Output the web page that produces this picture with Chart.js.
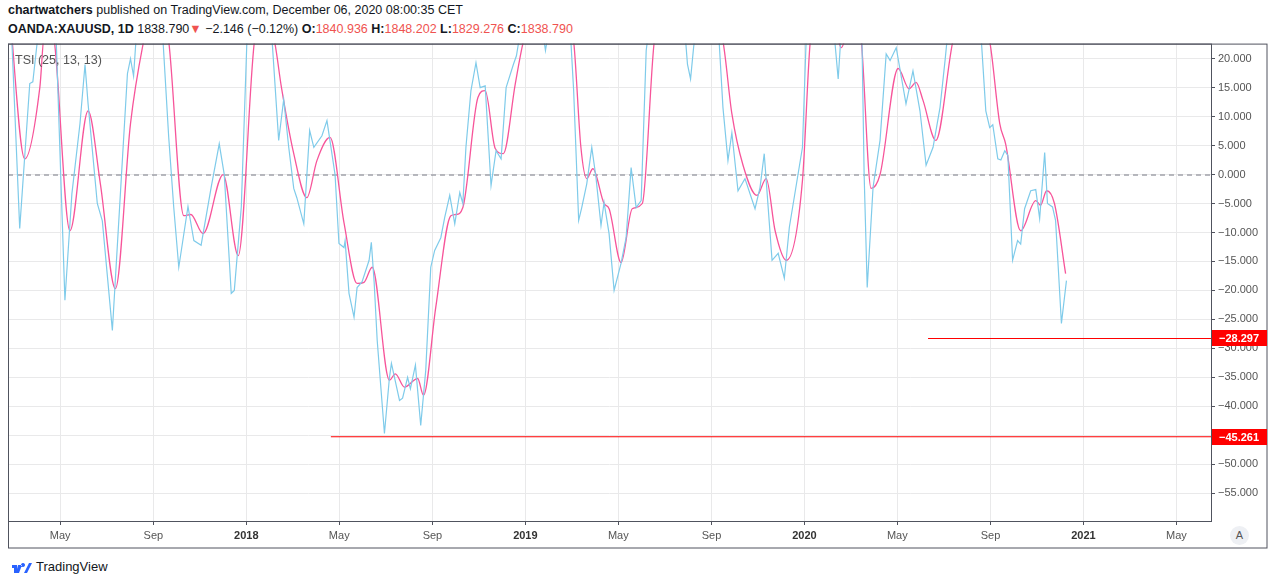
<!DOCTYPE html>
<html><head><meta charset="utf-8">
<script src="https://cdn.jsdelivr.net/npm/chart.js@4"></script>
<style>
body{margin:0;background:#fff;width:1274px;height:586px;overflow:hidden;font-family:"Liberation Sans",Arial,sans-serif;position:relative}
#h1{position:absolute;left:8px;top:3px;font-size:12.5px;color:#131722;white-space:nowrap}
#h2{position:absolute;left:8px;top:22px;font-size:12.5px;color:#131722;white-space:nowrap}
.r{color:#ef5350}
#wrap{position:absolute;left:8px;top:34px;width:1260px;height:515px}
#tsi{position:absolute;left:15px;top:53px;font-size:12.5px;color:#555}
#foot{position:absolute;left:12px;top:559px;font-size:13px;color:#131722;display:flex;align-items:center;gap:4px}
#auto{position:absolute;left:1230px;top:526px;width:19px;height:19px;border-radius:50%;background:#eef0f4;color:#555;font-size:11px;text-align:center;line-height:19px}
</style></head><body>
<div id="h1"><b>chartwatchers</b> published on TradingView.com, December 06, 2020 08:00:35 CET</div>
<div id="h2"><b>OANDA:XAUUSD, 1D</b> 1838.790<span class="r">▼</span> −2.146 (−0.12%) <b>O:</b><span class="r">1840.936</span> <b>H:</b><span class="r">1848.202</span> <b>L:</b><span class="r">1829.276</span> <b>C:</b><span class="r">1838.790</span></div>
<div id="wrap"><canvas id="c"></canvas></div>
<div id="tsi">TSI (25, 13, 13)</div>
<div id="auto">A</div>
<div id="foot"><svg width="20" height="12" viewBox="0 0 20 12"><path d="M0 4h5v8H2V7H0z M6 4h4l-3 8H4z M11 2a2 2 0 1 0 .01 0z M12 12l5-10h3l-5 10z" fill="#2962ff"/></svg><span>TradingView</span></div>
<script>
const tsiX=[2017.159,2017.188,2017.224,2017.235,2017.267,2017.314,2017.350,2017.375,2017.404,2017.422,2017.433,2017.466,2017.484,2017.520,2017.574,2017.585,2017.596,2017.614,2017.693,2017.722,2017.740,2017.758,2017.791,2017.812,2017.838,2017.874,2017.903,2017.921,2017.946,2017.957,2017.982,2018.007,2018.083,2018.116,2018.134,2018.152,2018.170,2018.181,2018.206,2018.227,2018.242,2018.271,2018.289,2018.318,2018.332,2018.350,2018.354,2018.368,2018.386,2018.397,2018.415,2018.440,2018.448,2018.458,2018.469,2018.495,2018.513,2018.520,2018.549,2018.560,2018.578,2018.588,2018.606,2018.625,2018.643,2018.661,2018.675,2018.697,2018.711,2018.729,2018.747,2018.765,2018.776,2018.787,2018.805,2018.823,2018.838,2018.856,2018.877,2018.895,2018.913,2018.931,2018.957,2018.968,2019.000,2019.047,2019.072,2019.101,2019.155,2019.173,2019.191,2019.202,2019.220,2019.238,2019.253,2019.271,2019.282,2019.300,2019.318,2019.343,2019.361,2019.379,2019.397,2019.415,2019.433,2019.455,2019.563,2019.581,2019.592,2019.603,2019.625,2019.686,2019.708,2019.726,2019.740,2019.762,2019.787,2019.823,2019.841,2019.856,2019.884,2019.906,2019.928,2019.946,2019.993,2020.011,2020.096,2020.121,2020.139,2020.204,2020.214,2020.225,2020.246,2020.271,2020.293,2020.307,2020.329,2020.364,2020.389,2020.414,2020.436,2020.461,2020.486,2020.504,2020.525,2020.625,2020.650,2020.664,2020.675,2020.693,2020.704,2020.718,2020.729,2020.746,2020.764,2020.775,2020.789,2020.811,2020.829,2020.843,2020.861,2020.871,2020.889,2020.900,2020.921,2020.939];
const tsiY=[24,-9.3,15.7,16,30,30,-21.7,-3.3,8.8,19,12.2,-5,-8,-26.9,17.4,20,17,30,30,6.4,-5.7,-16,-5.5,-11.4,-12.2,-2.2,5.3,0,-20.5,-20,-5.6,30,30,5.9,13,4.7,-2.4,-4,-8.5,7.6,4.7,6.7,9.3,0,-11.9,-12.6,-11.4,-20.5,-24.6,-19.5,-18.5,-14.8,-11.7,-18.5,-28.6,-44.7,-35,-32.6,-39,-38.6,-35,-37,-32.9,-43.3,-33.8,-16,-13.1,-10.9,-7.4,-3.6,-8.5,-3.1,-5,4.7,14.5,19.3,15,15.3,-1.9,4.1,2.7,15,19,20.5,30,30,21.4,30,30,14.5,-7.9,-5.7,-1.6,4.7,-0.5,-8.8,-4.8,-10.2,-20,-15.3,-10.9,1.2,-5.7,-4.5,21.4,30,30,19,16.5,22,30,30,11.6,2.4,7.2,-2.8,-0.7,-5.9,-2.2,3.6,-14.8,-13.6,-17.9,-9.1,4.7,30,30,16.5,30,30,0,-19.5,-2.2,5.9,20.8,19.7,21.9,12.2,17.9,11,1.6,4.7,11.6,19.7,30,30,11,8.1,8.6,2.7,2.5,4.1,3.3,-14.8,-11.4,-12,-5.9,-2.8,-2.6,-7.6,3.8,-5,-5.6,-7.9,-25.7,-18.3];
const sigX=[2017.152,2017.206,2017.260,2017.278,2017.303,2017.368,2017.433,2017.477,2017.531,2017.585,2017.632,2017.657,2017.700,2017.722,2017.776,2017.801,2017.845,2017.917,2017.971,2018.029,2018.061,2018.101,2018.126,2018.170,2018.217,2018.253,2018.300,2018.350,2018.397,2018.422,2018.451,2018.513,2018.534,2018.567,2018.614,2018.635,2018.679,2018.733,2018.751,2018.776,2018.830,2018.856,2018.892,2018.921,2018.964,2018.993,2019.029,2019.137,2019.173,2019.199,2019.220,2019.242,2019.282,2019.300,2019.343,2019.383,2019.419,2019.462,2019.498,2019.661,2019.708,2019.740,2019.780,2019.830,2019.863,2019.895,2019.935,2019.993,2020.021,2020.050,2020.111,2020.132,2020.157,2020.193,2020.204,2020.239,2020.271,2020.336,2020.375,2020.400,2020.425,2020.471,2020.532,2020.568,2020.621,2020.664,2020.700,2020.721,2020.775,2020.829,2020.846,2020.868,2020.896,2020.936];
const sigY=[28,2.7,15,25,25,-9.7,11,-1.6,-19.7,8.8,23,28,28,23,-7.1,-6.9,-10.2,0,-14,23,28,23,15,3.6,-4,2.4,6.4,-8.3,-18.8,-18.6,-16,-35.5,-34.4,-36.7,-35.2,-38.1,-22.9,-7.1,-6.9,-5.7,13.3,14.5,4.5,3.6,15.7,23,28,28,23,4.7,-0.7,1,-5,-5.9,-15.2,-5.9,-5,23,28,28,23,10.5,1.6,-3.6,-0.7,-9.7,-14.8,-1,23,28,25,21.9,25,26,23,-2.4,0,18.3,14.8,15.9,12.8,5.9,23,28,28,23,8.8,5.3,-9.7,-4.5,-5.3,-2.8,-5,-17.1];
const levels=[-28.297,-45.261];
const levelStart=[2020.443,2018.303];
const yTicks=[20,15,10,5,0,-5,-10,-15,-20,-25,-30,-35,-40,-45,-50,-55];
const xTickVals=[2017.333,2017.667,2018,2018.333,2018.667,2019,2019.333,2019.667,2020,2020.333,2020.667,2021,2021.333];
const xTickLabels=["May","Sep","2018","May","Sep","2019","May","Sep","2020","May","Sep","2021","May"];
const XMIN=2017.146,XMAX=2021.457;

const pts=(xs,ys)=>xs.map((x,i)=>({x,y:ys[i]}));
const fmt=v=>(v<0?"\u2212":"")+Math.abs(v).toFixed(3);
const extras={id:'extras',
 beforeDatasetsDraw(ch){const{ctx,chartArea:a,scales:{y}}=ch;const yy=y.getPixelForValue(0);
  ctx.save();ctx.strokeStyle='#787b86';ctx.lineWidth=1;ctx.setLineDash([5,4]);ctx.beginPath();ctx.moveTo(a.left,yy+0.5);ctx.lineTo(a.right,yy+0.5);ctx.stroke();ctx.restore();},
 afterDraw(ch){const{ctx,chartArea:a,scales:{y}}=ch;ctx.save();
  ctx.strokeStyle='#50535e';ctx.lineWidth=1;
  ctx.strokeRect(a.left+0.5,a.top+0.5,a.right-a.left,a.bottom-a.top);
  ctx.strokeRect(a.left+0.5,a.top+0.5,ch.width-a.left-1.5,ch.height-a.top-1.5);
  levels.forEach(v=>{const py=Math.round(y.getPixelForValue(v));ctx.fillStyle='#ff0000';ctx.fillRect(a.right+1,py-8,ch.width-a.right-2,16);
   ctx.fillStyle='#fff';ctx.font='bold 11px "Liberation Sans", Arial';ctx.textBaseline='middle';ctx.fillText(fmt(v),a.right+8,py+1);});
  ctx.restore();}};
new Chart(document.getElementById('c'),{type:'line',
 data:{datasets:[
  {data:pts(tsiX,tsiY),borderColor:'#7fcbea',borderWidth:1.2,pointRadius:0,tension:0},
  {data:pts(sigX,sigY),borderColor:'#f7559a',borderWidth:1.3,pointRadius:0,cubicInterpolationMode:'monotone'},
  {data:[{x:levelStart[0],y:levels[0]},{x:XMAX,y:levels[0]}],borderColor:'#ff0000',borderWidth:1.2,pointRadius:0},
  {data:[{x:levelStart[1],y:levels[1]},{x:XMAX,y:levels[1]}],borderColor:'#ff0000',borderWidth:1.2,pointRadius:0}]},
 options:{responsive:true,maintainAspectRatio:false,animation:false,layout:{padding:0},
  plugins:{legend:{display:false},tooltip:{enabled:false}},
  scales:{
   x:{type:'linear',min:XMIN,max:XMAX,
    afterBuildTicks:s=>{s.ticks=xTickVals.map(v=>({value:v}));},
    afterFit:s=>{s.height=28;},
    grid:{color:'#e9e9ea',tickLength:4,tickColor:'#50535e'},border:{display:false},
    ticks:{autoSkip:false,maxRotation:0,padding:4,color:c=>/^\d/.test(xTickLabels[c.index]||'')?'#333':'#555',
     font:c=>({family:'Liberation Sans',size:11,weight:/^\d/.test(xTickLabels[c.index]||'')?'bold':'normal'}),
     callback:(v,i)=>xTickLabels[i]}},
   y:{position:'right',min:-59.8,max:22.6,
    afterBuildTicks:s=>{s.ticks=yTicks.map(v=>({value:v}));},
    afterFit:s=>{s.width=57;},
    grid:{color:'#e9e9ea',tickLength:4,tickColor:'#50535e'},border:{display:false},
    ticks:{padding:3,color:'#555',font:{family:'Liberation Sans',size:11},callback:v=>fmt(v)}}}},
 plugins:[extras]});
</script></body></html>
